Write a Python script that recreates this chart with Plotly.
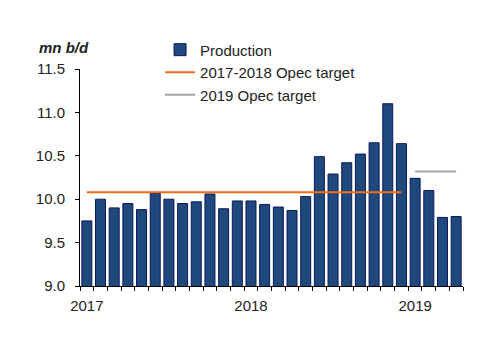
import plotly.graph_objects as go
import numpy as np

months = ["Jan 2017", "Feb 2017", "Mar 2017", "Apr 2017", "May 2017", "Jun 2017",
          "Jul 2017", "Aug 2017", "Sep 2017", "Oct 2017", "Nov 2017", "Dec 2017",
          "Jan 2018", "Feb 2018", "Mar 2018", "Apr 2018", "May 2018", "Jun 2018",
          "Jul 2018", "Aug 2018", "Sep 2018", "Oct 2018", "Nov 2018", "Dec 2018",
          "Jan 2019", "Feb 2019", "Mar 2019", "Apr 2019"]
production = [9.75, 10.00, 9.90, 9.95, 9.88, 10.07, 10.00, 9.95, 9.97, 10.06, 9.89, 9.98,
              9.98, 9.94, 9.91, 9.87, 10.03, 10.49, 10.29, 10.42, 10.52, 10.65, 11.10, 10.64,
              10.24, 10.10, 9.79, 9.80]
target_1718 = 10.08
target_2019 = 10.32
year_labels = ["2017", "2018", "2019"]

x = np.arange(len(months))
i_dec18 = months.index("Dec 2018")
i_jan19 = months.index("Jan 2019")

font = "Liberation Sans, Arial, sans-serif"
txt = "#222222"

fig = go.Figure()
fig.add_trace(go.Bar(
    x=x, y=production, name="Production",
    marker=dict(color="rgb(31,73,125)", line=dict(color="rgb(10,25,90)", width=1)),
))
fig.add_trace(go.Scatter(
    x=[x[0], x[i_dec18]], y=[target_1718, target_1718], mode="lines",
    name="2017-2018 Opec target", line=dict(color="rgb(245,110,20)", width=2),
))
fig.add_trace(go.Scatter(
    x=[x[i_jan19], x[-1]], y=[target_2019, target_2019], mode="lines",
    name="2019 Opec target", line=dict(color="rgb(165,165,165)", width=2),
))

fig.update_layout(
    width=500, height=353,
    margin=dict(l=80, r=37, t=69, b=67),
    paper_bgcolor="white", plot_bgcolor="white",
    font=dict(family=font, size=15, color=txt),
    bargap=0.27,
    showlegend=True,
    legend=dict(x=0.209, xanchor="left", y=1.164, yanchor="top",
                bgcolor="rgba(0,0,0,0)", font=dict(size=15, color=txt),
                itemwidth=30, tracegroupgap=0),
    xaxis=dict(
        range=[-0.5, len(months) - 0.5],
        tickvals=[months.index("Jan " + y) for y in year_labels],
        ticktext=year_labels,
        ticks="", showline=True, linecolor="black", linewidth=1,
        showgrid=False, zeroline=False, ticklabelstandoff=6,
        minor=dict(tickvals=list(np.arange(len(months) + 1) - 0.5), ticks="outside",
                   ticklen=4, tickcolor="black", tickwidth=1, showgrid=False),
    ),
    yaxis=dict(
        range=[9.0, 11.5], dtick=0.5, tick0=9.0, tickformat=".1f",
        ticks="outside", ticklen=4, tickcolor="black",
        showline=True, linecolor="black", linewidth=1,
        showgrid=False, zeroline=False, ticklabelstandoff=7,
    ),
    annotations=[dict(
        text="<b><i>mn b/d</i></b>", xref="paper", yref="paper",
        x=-0.112, y=1.101, xanchor="left", yanchor="middle", showarrow=False,
        font=dict(size=15, color=txt),
    )],
)

fig.write_html("out.html")
